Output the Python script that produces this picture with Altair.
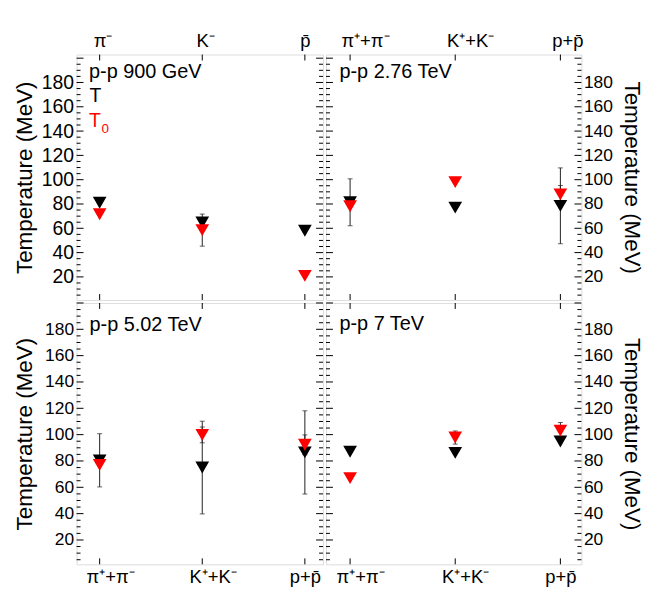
import json
import altair as alt
import pandas as pd

FONT = "Liberation Sans"

cat_pos = [0, 1, 2]
names_900 = ["\u03c0\u207b", "K\u207b", "p\u0304"]
names_sum = ["\u03c0\u207a+\u03c0\u207b", "K\u207a+K\u207b", "p+p\u0304"]

# p-p 900 GeV
T_900 = [81.0, 64.8, 58.0]
T0_900 = [71.6, 58.5, 20.8]
Terr_900 = [0, 0, 0]
T0err_900 = [0, 13.2, 0]

# p-p 2.76 TeV
T_276 = [81.4, 77.0, 78.5]
T0_276 = [78.1, 98.0, 87.9]
Terr_276 = [19.3, 0, 31.2]
T0err_276 = [0, 0, 7.3]

# p-p 5.02 TeV
T_502 = [80.5, 75.0, 86.5]
T0_502 = [77.0, 99.8, 92.3]
Terr_502 = [20.2, 35.2, 31.6]
T0err_502 = [0, 6.0, 7.5]

# p-p 7 TeV
T_7 = [87.0, 86.2, 94.8]
T0_7 = [67.0, 97.8, 103.0]
Terr_7 = [0, 0, 0]
T0err_7 = [0, 5.0, 6.2]

y_labels = [20, 40, 60, 80, 100, 120, 140, 160, 180]


def panel(title, T, T0, Terr, T0err, names, width, height, xdom, ydom,
          yorient, xorient, ylab_size, lab_shift, legend=False, tx=13, ty=24):
    pts = pd.DataFrame({"c": cat_pos * 2, "v": T + T0,
                        "s": ["T"] * 3 + ["T0"] * 3, "e": Terr + T0err})
    err = pts[pts.e > 0].copy()
    err["lo"] = err.v - err.e
    err["hi"] = err.v + err.e
    caps = pd.DataFrame({"c": list(err.c) * 2, "v": list(err.lo) + list(err.hi)})

    xs = alt.Scale(domain=xdom, nice=False, zero=False)
    ys = alt.Scale(domain=ydom, nice=False, zero=False)
    xaxis = alt.Axis(orient=xorient, values=cat_pos,
                     labelExpr=json.dumps(names, ensure_ascii=False) + "[datum.value]",
                     ticks=False, domain=False, grid=False, labelFontSize=18.5,
                     labelFont=FONT, labelColor="black",
                     labelPadding=4 if xorient == "top" else 3,
                     labelOffset={"condition": {"test": "datum.value == 2", "value": lab_shift[1]},
                                  "value": lab_shift[0]},
                     labelFlush=False, labelOverlap=False, title=None)
    ttx = -40 if yorient == "left" else 38
    yaxis = alt.Axis(orient=yorient, values=y_labels, ticks=False, domain=False,
                     grid=False, labelFontSize=ylab_size, labelFont=FONT,
                     labelColor="black", labelPadding=3 if yorient == "left" else 2,
                     labelFlush=False, labelOverlap=False,
                     title="Temperature (MeV)", titleFont=FONT, titleFontSize=22.5,
                     titleFontWeight="normal", titleColor="black", titleX=ttx)
    X = alt.X("c:Q", scale=xs, axis=xaxis)
    Y = alt.Y("v:Q", scale=ys, axis=yaxis)

    major = pd.DataFrame({"v": [v for v in range(0, 201, 20) if ydom[0] <= v <= ydom[1]]})
    minor = pd.DataFrame({"v": [v for v in range(0, 201, 5) if v % 20 and ydom[0] <= v <= ydom[1]]})
    xt = pd.DataFrame({"c": cat_pos})

    layers = []
    for df, ln in ((major, 7), (minor, 4)):
        layers.append(alt.Chart(df).mark_rule(color="black", strokeWidth=1).encode(
            y=Y, x=alt.value(0), x2=alt.value(ln)))
        layers.append(alt.Chart(df).mark_rule(color="black", strokeWidth=1).encode(
            y=Y, x=alt.value(width), x2=alt.value(width - ln)))
    layers.append(alt.Chart(xt).mark_rule(color="black", strokeWidth=1).encode(
        x=X, y=alt.value(0), y2=alt.value(6)))
    layers.append(alt.Chart(xt).mark_rule(color="black", strokeWidth=1).encode(
        x=X, y=alt.value(height), y2=alt.value(height - 6)))

    if len(err):
        layers.append(alt.Chart(err).mark_rule(color="#222222", strokeWidth=1).encode(
            x=X, y=alt.Y("lo:Q", scale=ys, axis=yaxis), y2="hi:Q"))
        layers.append(alt.Chart(caps).mark_tick(orient="horizontal", size=5, thickness=1,
                                                color="#222222").encode(x=X, y=Y))

    for s, col in (("T", "black"), ("T0", "#ff0000")):
        layers.append(alt.Chart(pts[pts.s == s]).mark_point(
            shape="triangle-down", filled=True, size=190, opacity=1, color=col,
            strokeWidth=0).encode(x=X, y=Y))

    one = pd.DataFrame({"a": [0]})
    layers.append(alt.Chart(one).mark_text(
        align="left", baseline="alphabetic", font=FONT, fontSize=20, color="black",
        text=title).encode(x=alt.value(tx), y=alt.value(ty)))
    if legend:
        layers.append(alt.Chart(one).mark_text(
            align="left", baseline="alphabetic", font=FONT, fontSize=19.5, color="black",
            text="T").encode(x=alt.value(13), y=alt.value(48)))
        layers.append(alt.Chart(one).mark_text(
            align="left", baseline="alphabetic", font=FONT, fontSize=19.5, color="#ff0000",
            text="T").encode(x=alt.value(12.5), y=alt.value(73)))
        layers.append(alt.Chart(one).mark_text(
            align="left", baseline="alphabetic", font=FONT, fontSize=13.5, color="#ff0000",
            text="0").encode(x=alt.value(25), y=alt.value(79)))

    return alt.layer(*layers).properties(width=width, height=height)


LW, RW = 248, 257
TH, BH = 247, 263
XL = [-0.225, 2.177]
XR = [-0.229, 2.2]

tl = panel("p-p 900 GeV", T_900, T0_900, Terr_900, T0err_900, names_900,
           LW, TH, XL, [1, 203], "left", "top", 19.5, (3, 0), legend=True, tx=12.5, ty=24)
tr = panel("p-p 2.76 TeV", T_276, T0_276, Terr_276, T0err_276, names_sum,
           RW, TH, XR, [1, 203], "right", "top", 17.5, (15, 7), tx=13.5, ty=24)
bl = panel("p-p 5.02 TeV", T_502, T0_502, Terr_502, T0err_502, names_sum,
           LW, BH, XL, [1.5, 200], "left", "bottom", 17.5, (10.5, 0), tx=13, ty=28)
br = panel("p-p 7 TeV", T_7, T0_7, Terr_7, T0err_7, names_sum,
           RW, BH, XR, [1.5, 200], "right", "bottom", 17.5, (10, 0), tx=13.5, ty=27)

chart = alt.concat(tl, tr, bl, br, columns=2, spacing=1, align="each").properties(
    padding={"left": 5, "top": 21, "right": 3, "bottom": 0}
).configure_view(stroke="black", strokeWidth=1).configure(background="white")

chart.save("out.html", embed_options={"renderer": "svg", "actions": False})
